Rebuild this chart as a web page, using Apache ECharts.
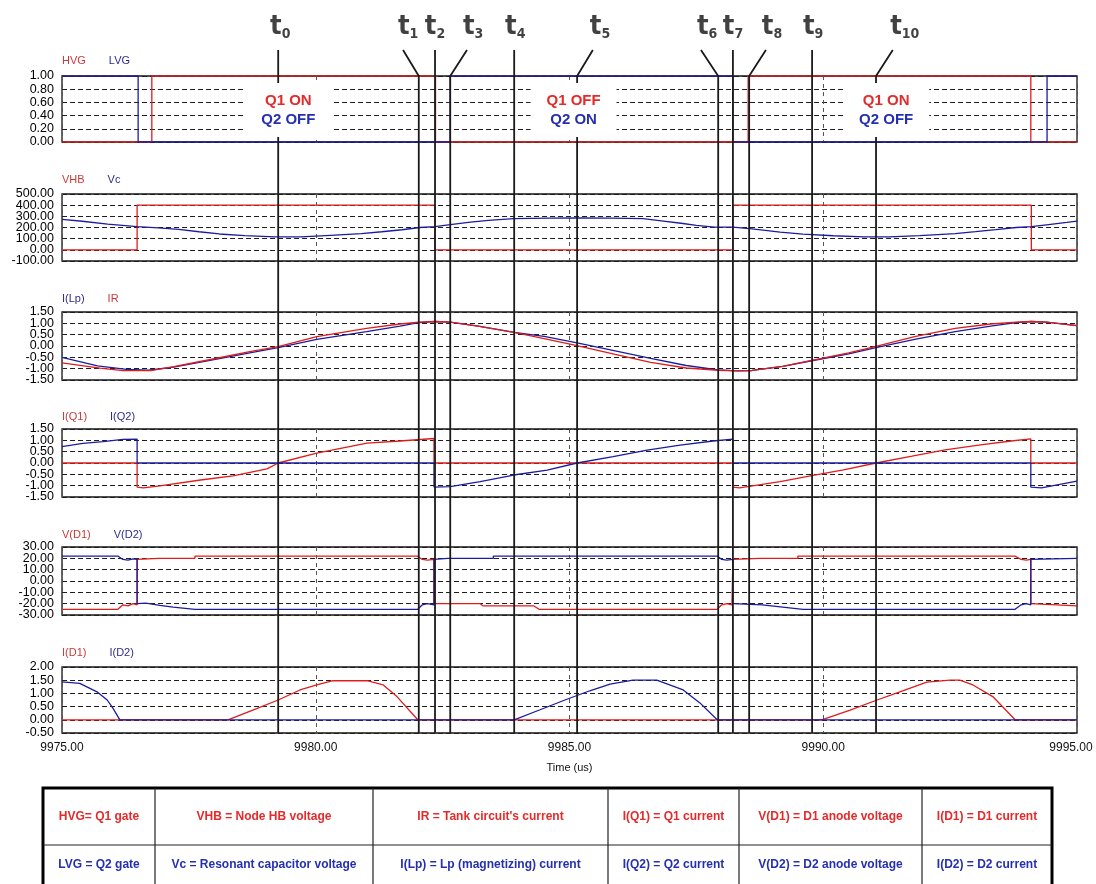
<!DOCTYPE html>
<html>
<head>
<meta charset="utf-8">
<script src="https://cdn.jsdelivr.net/npm/echarts@6.0.0/dist/echarts.min.js"></script>
<style>html,body{margin:0;padding:0;background:#fff}#c{width:1096px;height:884px}</style>
</head>
<body>
<div id="c"></div>
<script>
// ---------------- DATA (time in us) ----------------
const hvg = [[9975,0],[9976.77,0],[9976.77,1],[9982.36,1],[9982.36,0],[9988.52,0],[9988.52,1],[9994.09,1],[9994.09,0],[9995,0]];
const lvg = [[9975,1],[9976.50,1],[9976.50,0],[9982.65,0],[9982.65,1],[9988.22,1],[9988.22,0],[9994.41,0],[9994.41,1],[9995,1]];

const vhb = [[9975,0],[9976.48,0],[9976.48,400],[9982.35,400],[9982.35,0],[9988.22,0],[9988.22,400],[9994.1,400],[9994.1,0],[9995,0]];
const vc = [[9975.0,272],[9975.4,256],[9975.9,230],[9976.48,207],[9976.9,196],[9977.3,183],[9977.7,162],[9978.1,142],[9978.6,128],[9979.2,116],[9979.7,116],[9980.2,128],[9980.9,145],[9981.3,162],[9981.7,180],[9982.05,200],[9982.35,208],[9982.65,225],[9983.05,248],[9983.4,264],[9983.9,279],[9984.6,284],[9985.15,286],[9985.8,284],[9986.45,279],[9986.85,258],[9987.2,238],[9987.5,219],[9987.85,204],[9988.22,203],[9988.55,190],[9988.9,172],[9989.15,158],[9989.6,140],[9990.2,126],[9990.8,116],[9991.3,116],[9991.9,128],[9992.6,146],[9993.0,163],[9993.4,181],[9993.8,200],[9994.1,207],[9994.4,224],[9994.8,246],[9995.0,258]];

const iLp = [[9975,-0.5],[9975.7,-0.88],[9976.27,-1.03],[9976.7,-1.07],[9977.2,-0.93],[9978.05,-0.58],[9978.7,-0.3],[9979.26,-0.07],[9980.02,0.29],[9981.0,0.63],[9981.66,0.88],[9982.03,1.03],[9982.35,1.08],[9982.65,1.05],[9983.2,0.88],[9983.91,0.6],[9984.5,0.42],[9985.15,0.14],[9985.9,-0.22],[9986.6,-0.55],[9987.3,-0.86],[9987.93,-1.05],[9988.3,-1.1],[9988.6,-1.08],[9989.2,-0.9],[9989.8,-0.64],[9990.5,-0.35],[9991.04,-0.07],[9991.8,0.29],[9992.6,0.63],[9993.3,0.88],[9993.8,1.03],[9994.1,1.08],[9994.4,1.05],[9995,0.9]];
const iR = [[9975,-0.74],[9975.75,-0.98],[9976.2,-1.09],[9976.75,-1.09],[9977.2,-0.91],[9978.05,-0.54],[9978.7,-0.25],[9979.26,-0.03],[9980.02,0.41],[9981.0,0.78],[9981.66,0.97],[9982.03,1.05],[9982.35,1.08],[9982.65,1.05],[9983.2,0.88],[9983.91,0.6],[9984.5,0.33],[9985.15,0.02],[9985.9,-0.37],[9986.6,-0.72],[9987.3,-0.97],[9987.93,-1.07],[9988.3,-1.1],[9988.6,-1.08],[9989.2,-0.9],[9989.8,-0.62],[9990.5,-0.3],[9991.04,-0.02],[9991.8,0.41],[9992.6,0.78],[9993.3,0.97],[9993.8,1.05],[9994.1,1.08],[9994.4,1.05],[9995,0.9]];

const iQ1 = [[9975,0],[9976.48,0],[9976.48,-1.06],[9976.6,-1.1],[9976.93,-1.01],[9977.73,-0.75],[9978.37,-0.57],[9979.04,-0.26],[9979.26,0],[9980.02,0.44],[9981.01,0.88],[9981.66,0.97],[9982.33,1.08],[9982.33,0],[9988.22,0],[9988.22,-1.06],[9988.35,-1.1],[9989.15,-0.82],[9989.8,-0.55],[9990.4,-0.3],[9991.04,0],[9991.75,0.3],[9992.4,0.58],[9993.1,0.8],[9993.7,0.97],[9994.09,1.06],[9994.09,0],[9995,0]];
const iQ2 = [[9975,0.72],[9975.41,0.87],[9975.81,0.94],[9976.2,1.04],[9976.48,1.05],[9976.48,0],[9982.33,0],[9982.33,-1.06],[9982.65,-1.04],[9983.24,-0.82],[9983.9,-0.53],[9984.56,-0.31],[9985.15,0],[9985.86,0.28],[9986.53,0.57],[9987.18,0.79],[9987.83,0.97],[9988.22,1.05],[9988.22,0],[9994.09,0],[9994.09,-1.06],[9994.3,-1.1],[9995,-0.8]];

const vD1 = [[9975,-25],[9976.1,-25],[9976.2,-21],[9976.3,-22],[9976.4,-20],[9976.48,-21],[9976.48,19],[9976.9,20],[9977.62,20],[9977.62,22],[9982.0,22],[9982.1,19],[9982.2,18.5],[9982.33,19],[9982.33,-20],[9983.24,-20],[9983.3,-22],[9984.3,-22],[9984.4,-25],[9987.91,-25],[9988.0,-21],[9988.1,-20],[9988.2,-21],[9988.22,19],[9988.75,20],[9989.5,20],[9989.5,22],[9993.78,22],[9993.9,19],[9994.0,18.5],[9994.09,19],[9994.09,-20],[9995,-22]];
const vD2 = [[9975,22],[9976.1,22],[9976.2,19],[9976.3,18.5],[9976.4,19.5],[9976.48,19],[9976.48,-20],[9976.65,-19.5],[9976.93,-21.5],[9977.19,-23],[9977.62,-25],[9982.01,-25],[9982.1,-21],[9982.2,-20],[9982.33,-21],[9982.33,19],[9982.6,20],[9983.5,20],[9983.5,22],[9987.91,22],[9988.0,19],[9988.1,18.5],[9988.22,19],[9988.22,-20],[9988.8,-21],[9989.2,-23],[9989.6,-25],[9993.78,-25],[9993.9,-21],[9994.0,-20],[9994.09,-21],[9994.09,19],[9995,20]];

const iD1 = [[9975,0],[9978.27,0],[9978.76,0.37],[9979.26,0.75],[9979.69,1.13],[9980.02,1.32],[9980.34,1.48],[9981.01,1.48],[9981.33,1.32],[9981.60,0.88],[9982.01,0],[9989.97,0],[9990.53,0.37],[9991.06,0.75],[9991.51,1.06],[9992.04,1.43],[9992.50,1.5],[9992.69,1.5],[9992.95,1.32],[9993.34,0.88],[9993.78,0],[9995,0]];
const iD2 = [[9975,1.44],[9975.35,1.38],[9975.69,1.06],[9975.89,0.75],[9976.0,0.45],[9976.14,0],[9983.91,0],[9984.42,0.38],[9984.91,0.75],[9985.40,1.1],[9985.80,1.35],[9986.25,1.5],[9986.72,1.5],[9987.24,1.13],[9987.57,0.64],[9987.91,0],[9995,0]];

// time markers t0..t10
const tNames = ['0','1','2','3','4','5','6','7','8','9','10'];
const tLineTimes  = [9979.26, 9982.03, 9982.35, 9982.65, 9983.91, 9985.15, 9987.93, 9988.22, 9988.54, 9989.78, 9991.04];
const tTopTimes   = [9979.26, 9981.72, 9982.35, 9982.98, 9983.91, 9985.46, 9987.59, 9988.22, 9988.87, 9989.78, 9991.37];
const tLabelTimes = [9979.10, 9981.62, 9982.15, 9982.90, 9983.73, 9985.40, 9987.51, 9988.02, 9988.79, 9989.60, 9991.32];

// switch state annotations
const stateTimes = [9979.46, 9985.08, 9991.24];
const stateQ1 = ['Q1 ON', 'Q1 OFF', 'Q1 ON'];
const stateQ2 = ['Q2 OFF', 'Q2 ON', 'Q2 OFF'];

// axis settings
const yMin  = [0, -100, -1.5, -1.5, -30, -0.5];
const yMax  = [1, 500, 1.5, 1.5, 30, 2];
const yStep = [0.2, 100, 0.5, 0.5, 10, 0.5];
const xMin = 9975, xMax = 9995, xStep = 5;

// legend names per panel
const panelNames = [['HVG','LVG'],['VHB','Vc'],['I(Lp)','IR'],['I(Q1)','I(Q2)'],['V(D1)','V(D2)'],['I(D1)','I(D2)']];

// table
const tableRow1 = ['HVG= Q1 gate','VHB = Node HB voltage',"IR = Tank circuit's current",'I(Q1) = Q1 current','V(D1) = D1 anode voltage','I(D1) = D1 current'];
const tableRow2 = ['LVG = Q2 gate','Vc = Resonant capacitor voltage','I(Lp) = Lp (magnetizing) current','I(Q2) = Q2 current','V(D2) = D2 anode voltage','I(D2) = D2 current'];

// ---------------- LAYOUT / STYLE ----------------
const RED = '#e01c1c', BLUE = '#1c1ca0';
const RED_T = '#e42a2a', BLUE_T = '#2530b0';
const RED_L = '#c83a3a', BLUE_L = '#2c2c90';
const LEFT = 62, RIGHT = 19;
const tops = [76, 194, 312, 429, 547, 667];
const heights = [66, 67, 68, 68, 68, 66];
const LINE_BOTTOM = 733, KNEE = 76, LINE_TOP = 50, LABEL_Y = 27;
const FONT = '"Liberation Sans", Arial, sans-serif';
const NARROW = '"DejaVu Sans Condensed", "Liberation Sans", sans-serif';
const colX = [43, 155, 373, 608, 739, 922, 1052];
const tableTop = 788, tableMid = 845, tableBottom = 887;

const chart = echarts.init(document.getElementById('c'));

const grid = tops.map((t, i) => ({left: LEFT, right: RIGHT, top: t, height: heights[i], show: true,
  containLabel: false, outerBoundsMode: 'none',
  borderColor: '#141414', borderWidth: 1.3, backgroundColor: 'rgba(0,0,0,0)'}));
grid.push({left: LEFT, right: RIGHT, top: 0, height: LINE_BOTTOM, show: false, containLabel: false, outerBoundsMode: 'none'});

const xAxis = tops.map((t, i) => ({
  type: 'value', gridIndex: i, min: xMin, max: xMax, interval: xStep,
  axisLine: {show: false}, axisTick: {show: false},
  axisLabel: {show: i === 5, color: '#111', fontSize: 12, margin: 9, fontFamily: FONT,
    showMinLabel: true, showMaxLabel: true, hideOverlap: false,
    formatter: v => v === xMax ? '{m|' + v.toFixed(2) + '}' : v.toFixed(2),
    rich: {m: {fontSize: 12, color: '#111', fontFamily: FONT, padding: [0, 12, 0, 0]}}},
  splitLine: {show: true, lineStyle: {type: [4, 4], color: '#555', width: 1}},
  name: i === 5 ? 'Time (us)' : '', nameLocation: 'middle', nameGap: 29,
  nameTextStyle: {color: '#111', fontSize: 11, fontFamily: FONT}
}));
xAxis.push({type: 'value', gridIndex: 6, min: xMin, max: xMax, show: false});

const yLabelStyle = {color: '#000', fontSize: 12.5, margin: 8, fontFamily: FONT, hideOverlap: false,
  formatter: v => v.toFixed(2)};
// primary axes: interior tick labels + dashed grid lines
const yAxis = tops.map((t, i) => ({
  type: 'value', gridIndex: i, min: yMin[i], max: yMax[i], interval: yStep[i],
  axisLine: {show: false}, axisTick: {show: false},
  axisLabel: Object.assign({}, yLabelStyle, {showMinLabel: false, showMaxLabel: false}),
  splitLine: {show: true, lineStyle: {type: [5, 3], color: '#1e1e1e', width: 1}}
}));
yAxis.push({type: 'value', gridIndex: 6, min: 0, max: LINE_BOTTOM, inverse: true, show: false});
// secondary axes: only the min / max labels (so overlap handling never hides a neighbour)
tops.forEach((t, i) => {
  yAxis.push({
    type: 'value', gridIndex: i, min: yMin[i], max: yMax[i], interval: yStep[i], position: 'left', offset: 0,
    axisLine: {show: false}, axisTick: {show: false}, splitLine: {show: false},
    axisLabel: Object.assign({}, yLabelStyle, {showMinLabel: true, showMaxLabel: true,
      customValues: [yMin[i], yMax[i]]})
  });
});

function wave(name, data, color, idx) {
  return {type: 'line', name, data, xAxisIndex: idx, yAxisIndex: idx, showSymbol: false, symbol: 'none',
    lineStyle: {color, width: 1.3}, itemStyle: {color}, z: 3, silent: true};
}

const series = [
  wave('HVG', hvg, RED, 0), wave('LVG', lvg, BLUE, 0),
  wave('VHB', vhb, RED, 1), wave('Vc', vc, BLUE, 1),
  wave('I(Lp)', iLp, BLUE, 2), wave('IR', iR, RED, 2),
  wave('I(Q1)', iQ1, RED, 3), wave('I(Q2)', iQ2, BLUE, 3),
  wave('V(D1)', vD1, RED, 4), wave('V(D2)', vD2, BLUE, 4),
  wave('I(D1)', iD1, RED, 5), wave('I(D2)', iD2, BLUE, 5),
  {
    type: 'lines', coordinateSystem: 'cartesian2d', xAxisIndex: 6, yAxisIndex: 6, polyline: true, silent: true, z: 5,
    lineStyle: {color: '#1a1a1a', width: 1.8, opacity: 1},
    data: tLineTimes.map((t, i) => ({coords: [[tTopTimes[i], LINE_TOP], [t, KNEE], [t, LINE_BOTTOM]]}))
  },
  {
    type: 'scatter', xAxisIndex: 6, yAxisIndex: 6, silent: true, z: 7, symbolSize: 1,
    itemStyle: {color: 'rgba(0,0,0,0)'},
    data: tLabelTimes.map(t => [t, LABEL_Y]),
    label: {show: true, position: 'inside', align: 'left',
      formatter: p => '{t|t}{s|' + tNames[p.dataIndex] + '}',
      rich: {
        t: {fontSize: 27, fontWeight: 'bold', color: '#111', fontFamily: NARROW, lineHeight: 28},
        s: {fontSize: 14, fontWeight: 'bold', color: '#111', fontFamily: NARROW, lineHeight: 4, verticalAlign: 'bottom'}
      }}
  },
  {
    type: 'scatter', xAxisIndex: 0, yAxisIndex: 0, silent: true, z: 6, symbol: 'rect', symbolSize: [86, 54],
    itemStyle: {color: '#ffffff', opacity: 1},
    data: stateTimes.map(t => [t, 0.485]),
    label: {show: true, position: 'inside',
      formatter: p => '{r|' + stateQ1[p.dataIndex] + '}\n{b|' + stateQ2[p.dataIndex] + '}',
      rich: {
        r: {color: RED_T, fontSize: 15, fontWeight: 'bold', lineHeight: 19, fontFamily: FONT},
        b: {color: BLUE_T, fontSize: 15, fontWeight: 'bold', lineHeight: 19, fontFamily: FONT}
      }}
  }
];

const legendCenters = [61, 180, 299, 417, 535, 653];
const legend = panelNames.map((names, i) => ({
  left: LEFT - 5, top: legendCenters[i] - 6, icon: 'none', itemWidth: 0, itemHeight: 12, itemGap: 18,
  padding: 0, selectedMode: false,
  textStyle: {fontSize: 11, fontFamily: FONT},
  data: names.map(n => {
    const s = series.find(x => x.name === n);
    return {name: n, textStyle: {color: s.lineStyle.color === RED ? RED_L : BLUE_L}};
  })
}));

// table as graphic
const graphic = [];
graphic.push({type: 'rect', shape: {x: colX[0], y: tableTop, width: colX[6] - colX[0], height: tableBottom - tableTop},
  style: {fill: '#fff', stroke: '#000', lineWidth: 3}, z: 10});
for (let k = 1; k < colX.length - 1; k++) {
  graphic.push({type: 'line', shape: {x1: colX[k], y1: tableTop, x2: colX[k], y2: tableBottom},
    style: {stroke: '#222', lineWidth: 1.2}, z: 11});
}
graphic.push({type: 'line', shape: {x1: colX[0], y1: tableMid, x2: colX[6], y2: tableMid},
  style: {stroke: '#222', lineWidth: 1.2}, z: 11});
[tableRow1, tableRow2].forEach((row, r) => {
  row.forEach((txt, k) => {
    graphic.push({type: 'text', x: (colX[k] + colX[k + 1]) / 2, y: r === 0 ? 817 : 865, z: 12,
      style: {text: txt, fill: r === 0 ? RED_T : BLUE_T, font: 'bold 12px ' + FONT, align: 'center', verticalAlign: 'middle'}});
  });
});

chart.setOption({
  animation: false,
  backgroundColor: '#fff',
  textStyle: {fontFamily: FONT},
  grid, xAxis, yAxis, legend, series, graphic
});
</script>
</body>
</html>
